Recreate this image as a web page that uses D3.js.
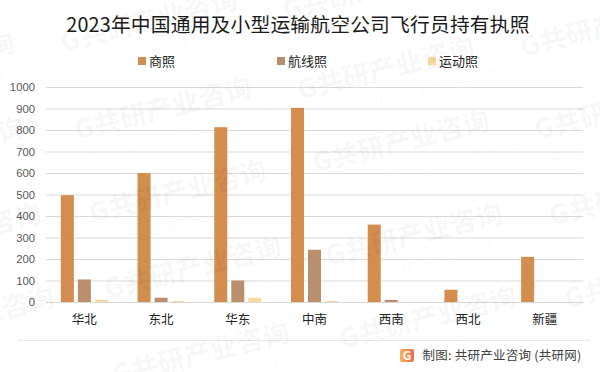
<!DOCTYPE html>
<html>
<head>
<meta charset="utf-8">
<script src="https://cdn.jsdelivr.net/npm/d3@7"></script>
<style>
  html, body { margin: 0; padding: 0; background: #fff; }
  svg { display: block; }
  text { font-family: "Noto Sans CJK SC", sans-serif; }
  .grid line { stroke: #d9d9d9; stroke-width: 1; }
  .grid path { display: none; }
  .grid text { font-family: "Liberation Sans", sans-serif; font-size: 11.3px; fill: #595959; }
  .cats path { stroke: #d9d9d9; }
  .cats line { display: none; }
  .cats text { font-size: 12.5px; fill: #222; }
</style>
</head>
<body>
<svg id="chart" width="600" height="372"></svg>
<script>
const regions = ['华北', '东北', '华东', '中南', '西南', '西北', '新疆'];
const seriesNames = ['商照', '航线照', '运动照'];
const commercial = [497, 600, 813, 903, 360, 57, 210];
const airline = [105, 20, 100, 243, 10, 0, 0];
const sport = [10, 5, 20, 5, 0, 0, 0];
const yTicks = [0, 100, 200, 300, 400, 500, 600, 700, 800, 900, 1000];
const seriesColors = ['#d38d4f', '#b98f6e', '#f8d9a0'];
const titleText = '2023年中国通用及小型运输航空公司飞行员持有执照';
const sourceText = '制图: 共研产业咨询 (共研网)';
const markStarts = [
  [63, 52], [77, 140], [92, 223], [107, 299], [115, 385], [285, 20],
  [300, 100], [315, 173], [328, 266], [342, 349], [523, 57], [537, 140],
  [552, 226], [567, 309], [-160, 95], [-150, 180], [-133, 266], [-120, 350]
];

const svg = d3.select('#chart');
const plot = { left: 46, right: 583, top: 87, bottom: 302 };

const x = d3.scaleBand().domain(regions).range([plot.left, plot.right]);
const inner = d3.scaleBand().domain(seriesNames).range([0, 47]).paddingInner(0.235);
const y = d3.scaleLinear().domain([0, 1000]).range([plot.bottom, plot.top]);

svg.append('g')
  .attr('class', 'grid')
  .attr('transform', 'translate(' + plot.left + ',0)')
  .call(d3.axisLeft(y).tickValues(yTicks).tickSize(-(plot.right - plot.left)).tickPadding(11).tickFormat(d3.format('d')));

const offset = (x.bandwidth() - 47) / 2;
[commercial, airline, sport].forEach((values, i) => {
  svg.append('g')
    .selectAll('rect')
    .data(values)
    .enter()
    .append('rect')
    .attr('x', (d, j) => x(regions[j]) + offset + inner(seriesNames[i]))
    .attr('y', d => y(d))
    .attr('width', inner.bandwidth())
    .attr('height', d => y(0) - y(d))
    .style('fill', seriesColors[i]);
});

svg.append('g')
  .attr('class', 'cats')
  .attr('transform', 'translate(0,' + plot.bottom + ')')
  .call(d3.axisBottom(x).tickSize(0).tickPadding(13));

svg.append('text')
  .attr('x', 298)
  .attr('y', 32)
  .attr('text-anchor', 'middle')
  .style('font-size', '19.8px')
  .style('letter-spacing', '0.16px')
  .style('fill', '#1a1a1a')
  .text(titleText);

const legendX = d3.scaleOrdinal().domain(seriesNames).range([138, 277, 428]);
const legend = svg.append('g')
  .selectAll('g')
  .data(seriesNames)
  .enter()
  .append('g')
  .attr('transform', d => 'translate(' + legendX(d) + ',57)');
legend.append('rect')
  .attr('width', 8)
  .attr('height', 8)
  .style('fill', (d, i) => seriesColors[i]);
legend.append('text')
  .attr('x', 11)
  .attr('y', 9)
  .style('font-size', '13px')
  .style('fill', '#222')
  .text(d => d);

// footer rule, logo and source
svg.append('line')
  .attr('x1', 18).attr('x2', 590)
  .attr('y1', 340.5).attr('y2', 340.5)
  .style('stroke', '#e8e8e8');

const grad = svg.append('defs').append('linearGradient').attr('id', 'logo');
grad.append('stop').attr('offset', 0).attr('stop-color', '#f7b25c');
grad.append('stop').attr('offset', 1).attr('stop-color', '#ee6a4a');
svg.append('rect')
  .attr('x', 400).attr('y', 349)
  .attr('width', 14).attr('height', 13)
  .attr('rx', 2)
  .style('fill', 'url(#logo)');
svg.append('text')
  .attr('x', 407).attr('y', 360)
  .attr('text-anchor', 'middle')
  .style('font-size', '12px')
  .style('font-weight', 700)
  .style('fill', '#fff')
  .text('G');

svg.append('text')
  .attr('x', 422.5)
  .attr('y', 359.5)
  .style('font-size', '12.5px')
  .style('letter-spacing', '0.25px')
  .style('fill', '#404040')
  .text(sourceText);

// faint tilted watermark over everything
const marks = svg.append('g')
  .selectAll('g')
  .data(markStarts)
  .enter()
  .append('g')
  .attr('transform', d => 'translate(' + d[0] + ',' + d[1] + ') rotate(-14)')
  .style('fill', '#000')
  .style('fill-opacity', 0.03);
marks.append('text')
  .style('font-size', '27px')
  .style('font-weight', 900)
  .text('G共研产业咨询');
marks.append('text')
  .attr('x', 8)
  .attr('y', 24)
  .style('font-family', '"Liberation Sans", sans-serif')
  .style('font-size', '15px')
  .style('letter-spacing', '7px')
  .text('www.gonyn.com');
</script>
</body>
</html>
